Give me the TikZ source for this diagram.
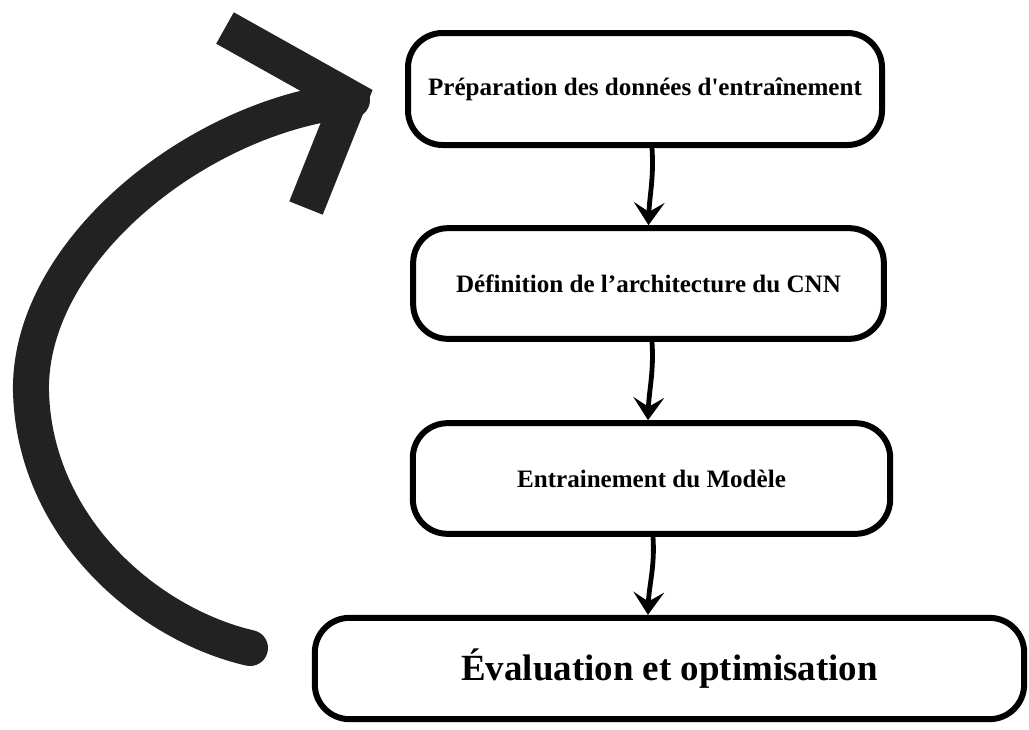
\documentclass[tikz,border=0pt]{standalone}
\usepackage{fontspec}
\setmainfont{Liberation Serif}
\newfontfamily\rawserif{Liberation Serif}
\usetikzlibrary{arrows.meta,calc}
\definecolor{ink}{HTML}{222222}
\begin{document}
\begin{tikzpicture}[x=0.75pt,y=-0.75pt,
  stepbox/.style={draw=black, line width=4.5pt, rounded corners=26pt, fill=white, inner sep=0pt, align=center},
  steptext/.style={font=\fontsize{18.8}{22}\selectfont\bfseries},
  flowarrow/.style={line width=3.6pt, line cap=round, -{Stealth[length=17pt,width=23pt,inset=7pt]}},
  loopstroke/.style={draw=ink, line width=27pt}
]
\useasboundingbox (0,0) rectangle (1029,729);

\node[stepbox, steptext, minimum width=355.5pt, minimum height=84pt] (b1) at (645,89) {{\rawserif\bfseries Préparation des données d'entraînement}};
\node[stepbox, steptext, minimum width=353pt, minimum height=83pt] (b2) at (648.5,283.5) {Définition de l’architecture du CNN};
\node[stepbox, steptext, minimum width=358pt, minimum height=83pt] (b3) at (651.5,478.5) {Entrainement du Modèle};
\node[stepbox, font=\fontsize{27.7}{32}\selectfont\bfseries, minimum width=532pt, minimum height=76pt] (b4) at (669.5,668.5) {Évaluation et optimisation};

\coordinate (a1s) at ($(b1.south)+(7,0)$);
\coordinate (a1e) at ($(b2.north)+(0,0)$);
\coordinate (a2s) at ($(b2.south)+(3.5,0)$);
\coordinate (a2e) at ($(b3.north)+(-3.5,0)$);
\coordinate (a3s) at ($(b3.south)+(1.5,0)$);
\coordinate (a3e) at ($(b4.north)+(-21.5,0)$);
\draw[flowarrow] (a1s) .. controls ($(a1s)+(2,30)$) and ($(a1e)+(1,-30)$) .. (a1e);
\draw[flowarrow] (a2s) .. controls ($(a2s)+(2,30)$) and ($(a2e)+(1,-30)$) .. (a2e);
\draw[flowarrow] (a3s) .. controls ($(a3s)+(2,30)$) and ($(a3e)+(1,-30)$) .. (a3e);

% loop-back arrow
\draw[loopstroke, line cap=round] (250,648) .. controls (150,625) and (35,530) .. (31,392)
  .. controls (28,250) and (200,115) .. (352,100);
\draw[loopstroke, line join=miter] (225,28) -- (350,98) -- (306,208);
\end{tikzpicture}
\end{document}
